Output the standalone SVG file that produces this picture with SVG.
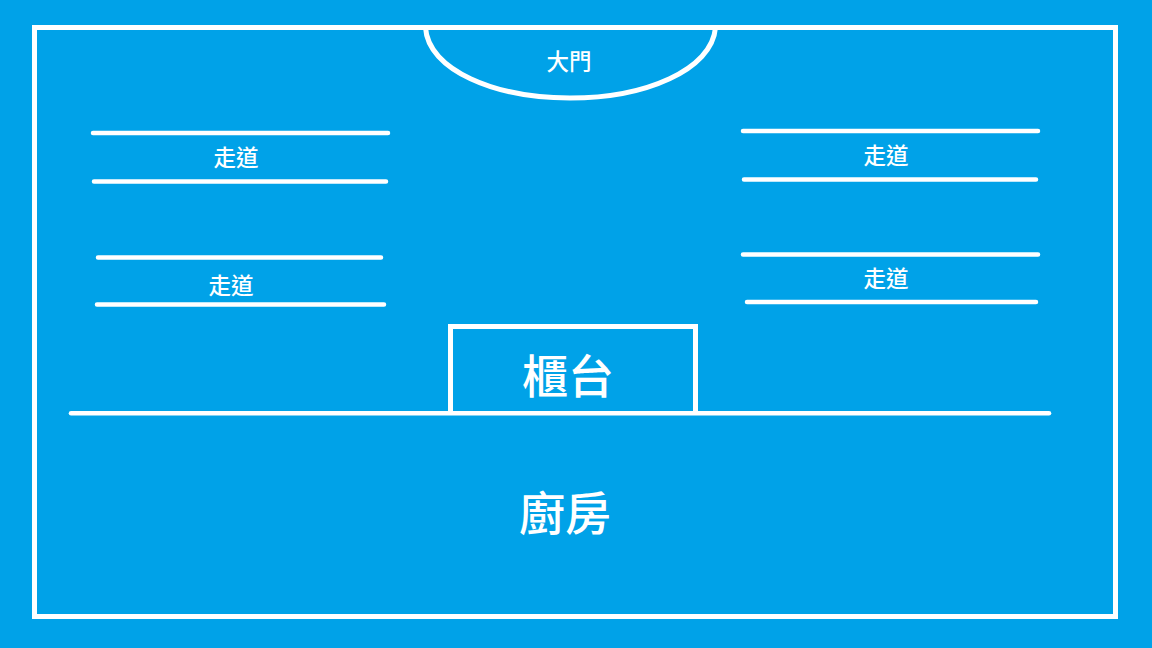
<svg xmlns="http://www.w3.org/2000/svg" width="1152" height="648" viewBox="0 0 1152 648">
<style>
.l{stroke:#fff;stroke-width:4.5;stroke-linecap:round;fill:none}
.b{stroke:#fff;stroke-width:5;fill:none}
text{fill:#fff;font-family:"Noto Sans CJK TC","Noto Sans CJK SC",sans-serif;font-weight:500;text-anchor:middle}
.s{font-size:22.5px}
.m{font-size:46px}
</style>
<rect width="1152" height="648" fill="#00a2e8"/>
<g id="room"><rect class="b" x="34.500" y="27.500" width="1081" height="589"/></g>
<g id="door"><path class="b" d="M425.500 27.500C428 70 495 98 570 98C645 98 712 70 715.500 27.500"/><text class="s" x="569" y="69.500">大門</text></g>
<g id="aisle1"><path class="l" d="M93 133H388M94 181.500H386"/><text class="s" x="236" y="165.500">走道</text></g>
<g id="aisle2"><path class="l" d="M98 257.500H381M97 304.500H384"/><text class="s" x="231" y="293.500">走道</text></g>
<g id="aisle3"><path class="l" d="M743 131H1038M744 179.500H1036"/><text class="s" x="886" y="163.500">走道</text></g>
<g id="aisle4"><path class="l" d="M743 254.500H1038M747 302H1036"/><text class="s" x="886" y="286.500">走道</text></g>
<g id="counter"><path class="b" d="M450.500 413V326.500H695.500V413"/><text class="m" x="568" y="393">櫃台</text></g>
<g id="kitchen"><path class="l" d="M71 413.300H1049"/><text class="m" x="565" y="530">廚房</text></g>
</svg>
